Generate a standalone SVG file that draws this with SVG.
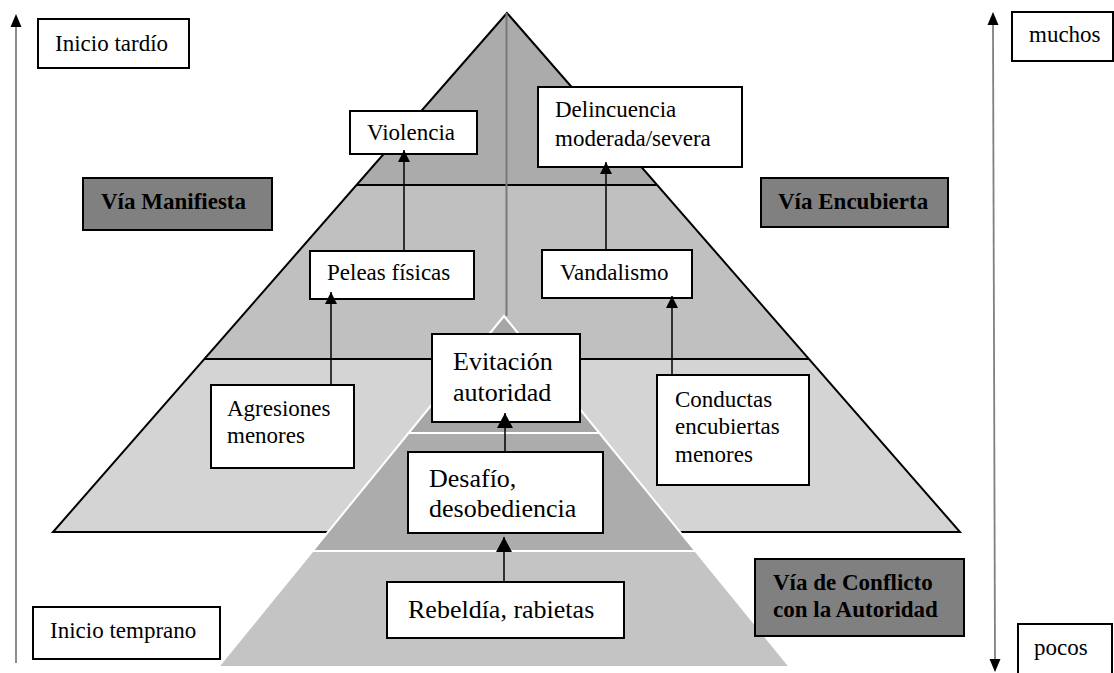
<svg xmlns="http://www.w3.org/2000/svg" width="1114" height="673" viewBox="0 0 1114 673">
<style>
.box{fill:#fff;stroke:#000;stroke-width:2}
.gbox{fill:#808080;stroke:#000;stroke-width:2}
.t{font-family:"Liberation Serif","Times New Roman",serif;font-size:23px;fill:#000}
.tb{font-family:"Liberation Serif","Times New Roman",serif;font-size:23px;font-weight:bold;fill:#000}
.tl{font-family:"Liberation Serif","Times New Roman",serif;font-size:26px;fill:#000}
.conn{stroke:#000;stroke-width:1.5;fill:none}
.axis{stroke:#808080;stroke-width:1.8;fill:none}
.edge{stroke:#000;stroke-width:2;fill:none}
.inner{stroke:#fff;stroke-width:2}
</style>
<defs>
<marker id="ah" markerUnits="userSpaceOnUse" markerWidth="12" markerHeight="12" refX="12" refY="6" orient="auto">
<path d="M0,0 L12,6 L0,12 z" fill="#000"/>
</marker>
<marker id="ahb" markerUnits="userSpaceOnUse" markerWidth="15" markerHeight="16" refX="15" refY="8" orient="auto">
<path d="M0,0 L15,8 L0,16 z" fill="#000"/>
</marker>
</defs>
<rect width="1114" height="673" fill="#fff"/>
<g id="outer-pyramid">
<polygon points="507,13 356.5,185 657.2,185" fill="#ababab"/>
<polygon points="356.5,185 657.2,185 809,359 204.3,359" fill="#c0c0c0"/>
<polygon points="204.3,359 809,359 960,532 53,532" fill="#d4d4d4"/>
<polygon class="edge" points="507,13 53,532 960,532"/>
<line class="edge" x1="356.5" y1="185" x2="657.2" y2="185"/>
<line class="edge" x1="204.3" y1="359" x2="809" y2="359"/>
<line x1="506.5" y1="13" x2="506.5" y2="316" stroke="#7a7a7a" stroke-width="2"/>
</g>
<g id="inner-pyramid">
<polygon class="inner" points="504,316 408.6,433 599.4,433" fill="#a6a6a6"/>
<polygon class="inner" points="408.6,433 599.4,433 695.5,551 312.5,551" fill="#acacac"/>
<polygon class="inner" points="312.5,551 695.5,551 790,667 218,667" fill="#c4c4c4"/>
</g>
<g id="axes">
<line class="axis" x1="16" y1="663" x2="16" y2="26"/>
<polygon points="16,14 10.5,27 21.5,27" fill="#000"/>
<line class="axis" x1="993" y1="24" x2="995" y2="660"/>
<polygon points="993,12 987.5,25 998.5,25" fill="#000"/>
<polygon points="995,672 989.5,659 1000.5,659" fill="#000"/>
</g>
<g id="node-inicio-tardio">
<rect class="box" x="38" y="19" width="151" height="49"/>
<text class="t" x="55" y="51">Inicio tardío</text>
</g>
<g id="node-inicio-temprano">
<rect class="box" x="33" y="607" width="187" height="52"/>
<text class="t" x="50" y="638">Inicio temprano</text>
</g>
<g id="node-muchos">
<rect class="box" x="1012" y="12" width="101" height="49"/>
<text class="t" x="1029" y="42">muchos</text>
</g>
<g id="node-pocos">
<rect class="box" x="1018" y="624" width="94" height="60"/>
<text class="t" x="1034" y="655">pocos</text>
</g>
<g id="node-via-manifiesta">
<rect class="gbox" x="83" y="178" width="189" height="52"/>
<text class="tb" x="101" y="209">Vía Manifiesta</text>
</g>
<g id="node-via-encubierta">
<rect class="gbox" x="761" y="178" width="187" height="49"/>
<text class="tb" x="778" y="209">Vía Encubierta</text>
</g>
<g id="node-via-conflicto">
<rect class="gbox" x="755" y="559" width="209" height="77"/>
<text class="tb" x="773" y="590">Vía de Conflicto</text>
<text class="tb" x="773" y="617">con la Autoridad</text>
</g>
<g id="node-violencia">
<rect class="box" x="350" y="111" width="127" height="43"/>
<text class="t" x="367" y="140">Violencia</text>
</g>
<g id="node-delincuencia">
<rect class="box" x="538" y="87" width="204" height="80"/>
<text class="t" x="555" y="117">Delincuencia</text>
<text class="t" x="555" y="146">moderada/severa</text>
</g>
<g id="node-peleas">
<rect class="box" x="310" y="251" width="164" height="48"/>
<text class="t" x="327" y="280">Peleas físicas</text>
</g>
<g id="node-vandalismo">
<rect class="box" x="542" y="250" width="150" height="48"/>
<text class="t" x="560" y="280">Vandalismo</text>
</g>
<g id="node-agresiones">
<rect class="box" x="211" y="385" width="143" height="83"/>
<text class="t" x="227" y="416">Agresiones</text>
<text class="t" x="227" y="443">menores</text>
</g>
<g id="node-conductas">
<rect class="box" x="657" y="375" width="152" height="110"/>
<text class="t" x="675" y="407">Conductas</text>
<text class="t" x="675" y="434">encubiertas</text>
<text class="t" x="675" y="462">menores</text>
</g>
<g id="node-evitacion">
<rect class="box" x="432" y="334" width="148" height="88"/>
<text class="tl" x="453" y="370">Evitación</text>
<text class="tl" x="453" y="401">autoridad</text>
</g>
<g id="node-desafio">
<rect class="box" x="408" y="452" width="195" height="81"/>
<text class="tl" x="429" y="487">Desafío,</text>
<text class="tl" x="429" y="517">desobediencia</text>
</g>
<g id="node-rebeldia">
<rect class="box" x="387" y="582" width="237" height="56"/>
<text class="tl" x="408" y="618">Rebeldía, rabietas</text>
</g>
<g id="connectors">
<line class="conn" x1="331" y1="385" x2="331" y2="292" marker-end="url(#ah)"/>
<line class="conn" x1="404" y1="251" x2="404" y2="150" marker-end="url(#ah)"/>
<line class="conn" x1="672" y1="375" x2="672" y2="296" marker-end="url(#ah)"/>
<line class="conn" x1="606" y1="250" x2="606" y2="162" marker-end="url(#ah)"/>
<line class="conn" x1="504" y1="582" x2="504" y2="537" marker-end="url(#ahb)"/>
<line class="conn" x1="505" y1="452" x2="505" y2="413" marker-end="url(#ahb)"/>
</g>
</svg>
